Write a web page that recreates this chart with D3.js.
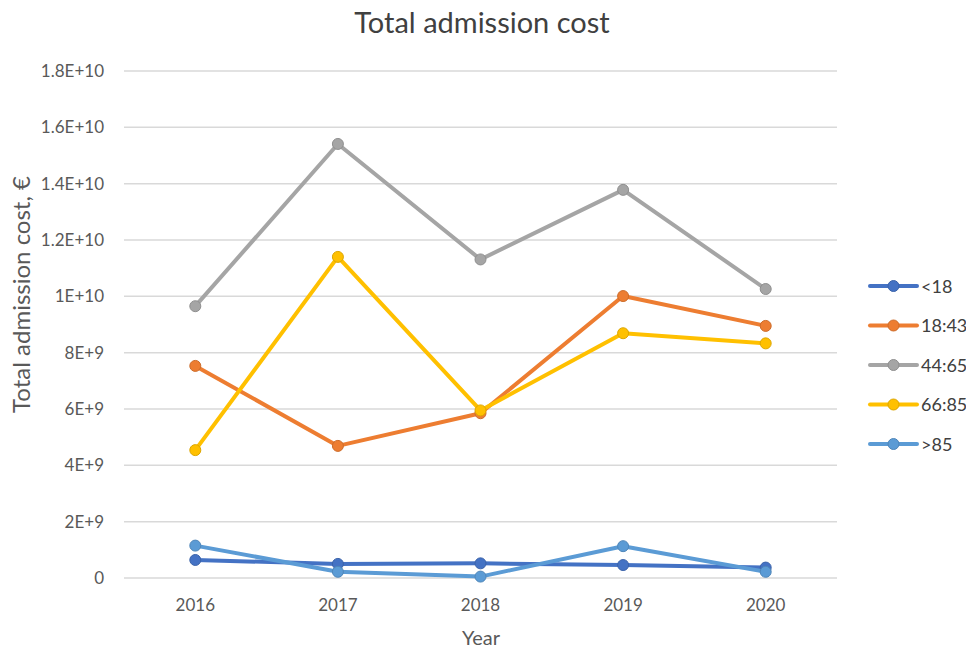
<!DOCTYPE html>
<html>
<head>
<meta charset="utf-8">
<script src="https://cdn.jsdelivr.net/npm/d3@7"></script>
<style>
  html, body { margin: 0; padding: 0; background: #fff; }
  svg { display: block; font-family: Lato, "Open Sans", sans-serif; }
</style>
</head>
<body>
<svg id="chart" width="966" height="649"></svg>
<script>
const years = ["2016", "2017", "2018", "2019", "2020"];
const seriesNames = ["<18", "18:43", "44:65", "66:85", ">85"];
const seriesColors = ["#4472C4", "#ED7D31", "#A5A5A5", "#FFC000", "#5B9BD5"];
const under18 = [0.64e9, 0.50e9, 0.52e9, 0.46e9, 0.37e9];
const age18to43 = [7.53e9, 4.69e9, 5.85e9, 10.01e9, 8.95e9];
const age44to65 = [9.65e9, 15.41e9, 11.31e9, 13.78e9, 10.26e9];
const age66to85 = [4.54e9, 11.40e9, 5.95e9, 8.69e9, 8.33e9];
const over85 = [1.15e9, 0.22e9, 0.05e9, 1.13e9, 0.22e9];
const yTicks = [0, 2e9, 4e9, 6e9, 8e9, 1e10, 1.2e10, 1.4e10, 1.6e10, 1.8e10];
const yTickLabels = ["0", "2E+9", "4E+9", "6E+9", "8E+9", "1E+10", "1.2E+10", "1.4E+10", "1.6E+10", "1.8E+10"];

const seriesValues = [under18, age18to43, age44to65, age66to85, over85];
const series = seriesNames.map((n, i) => ({ name: n, color: seriesColors[i], values: seriesValues[i] }));

const svg = d3.select("#chart");
const mLeft = 124, mRight = 837, mTop = 71, mBottom = 578;

const x = d3.scaleBand().domain(years).range([mLeft, mRight]);
const y = d3.scaleLinear().domain([0, 1.8e10]).range([mBottom, mTop]);
const cx = d => x(d) + x.bandwidth() / 2;

// gridlines
svg.append("g").selectAll("line").data(yTicks).join("line")
  .attr("x1", mLeft).attr("x2", mRight)
  .attr("y1", d => y(d)).attr("y2", d => y(d))
  .attr("stroke", "#d9d9d9").attr("stroke-width", 1.5);

// y axis labels
const yAxis = d3.axisLeft(y).tickValues(yTicks).tickSize(0).tickPadding(0)
  .tickFormat((d, i) => yTickLabels[i]);
const gy = svg.append("g").attr("transform", `translate(${mLeft - 20},0)`).call(yAxis);
gy.select(".domain").remove();
gy.selectAll("text").attr("fill", "#595959").style("font-size", "17px")
  .style("font-family", "Lato, 'Open Sans', sans-serif");

// x axis labels
const xAxis = d3.axisBottom(x).tickSize(0).tickPadding(0);
const gx = svg.append("g").attr("transform", `translate(0,${mBottom + 21})`).call(xAxis);
gx.select(".domain").remove();
gx.selectAll("text").attr("fill", "#595959").style("font-size", "17px")
  .style("font-family", "Lato, 'Open Sans', sans-serif");

// title
svg.append("text").attr("x", 482).attr("y", 33).attr("text-anchor", "middle")
  .attr("fill", "#404040").style("font-size", "29px").text("Total admission cost");

// axis titles
svg.append("text").attr("x", 481).attr("y", 645).attr("text-anchor", "middle")
  .attr("fill", "#595959").style("font-size", "20px").text("Year");
svg.append("text").attr("transform", "translate(30,176) rotate(-90)").attr("text-anchor", "end")
  .attr("fill", "#595959").style("font-size", "24px").text("Total admission cost, €");

// lines
const line = d3.line().x((d, i) => cx(years[i])).y(d => y(d));
const gs = svg.append("g").selectAll("g").data(series).join("g");
gs.append("path").attr("d", d => line(d.values)).attr("fill", "none")
  .attr("stroke", d => d.color).attr("stroke-width", 4).attr("stroke-linejoin", "round").attr("stroke-linecap", "round");
gs.selectAll("circle").data(d => d.values.map((v, i) => ({ v, i, color: d.color }))).join("circle")
  .attr("cx", d => cx(years[d.i])).attr("cy", d => y(d.v)).attr("r", 5.5)
  .attr("fill", d => d.color).attr("stroke", d => d3.color(d.color).darker(0.4)).attr("stroke-width", 1);

// legend
const lg = svg.append("g").selectAll("g").data(series).join("g")
  .attr("transform", (d, i) => `translate(870,${286 + i * 39.5})`);
lg.append("line").attr("x1", 0).attr("x2", 47).attr("stroke", d => d.color).attr("stroke-width", 4).attr("stroke-linecap", "round");
lg.append("circle").attr("cx", 23.5).attr("r", 5.5).attr("fill", d => d.color)
  .attr("stroke", d => d3.color(d.color).darker(0.4)).attr("stroke-width", 1);
lg.append("text").attr("x", 51).attr("y", 6.5).attr("fill", "#404040").style("font-size", "18px").text(d => d.name);
</script>
</body>
</html>
